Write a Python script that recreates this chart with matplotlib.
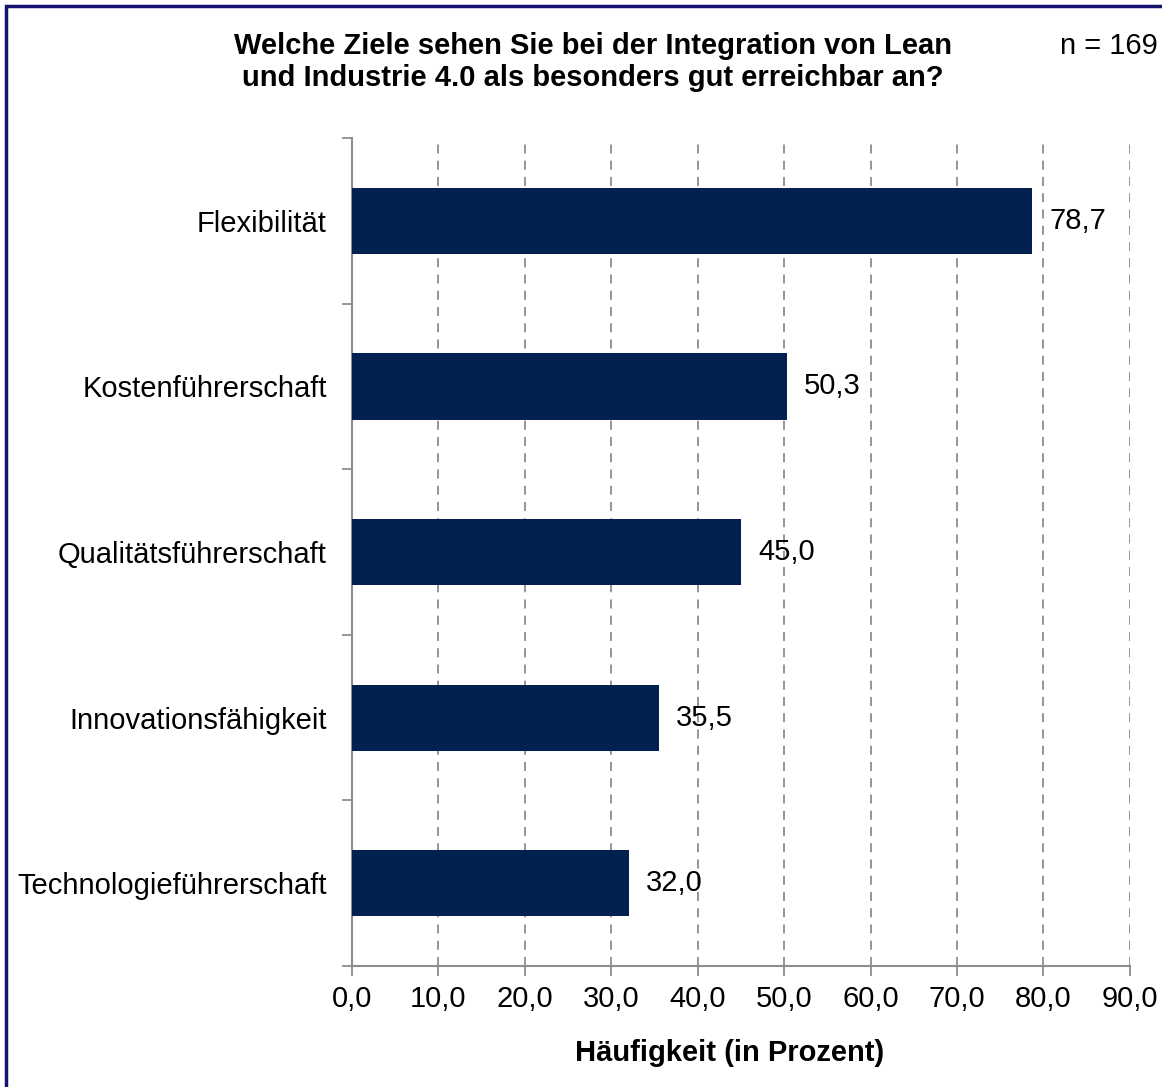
import matplotlib.pyplot as plt
import matplotlib.patches as mpatches
import numpy as np

# ── data ──────────────────────────────────────────────────────────────────────
categories = ['Flexibilität', 'Kostenführerschaft', 'Qualitätsführerschaft',
              'Innovationsfähigkeit', 'Technologieführerschaft']
values = [78.7, 50.3, 45.0, 35.5, 32.0]
xticks = [0, 10, 20, 30, 40, 50, 60, 70, 80, 90]

BAR_COLOR = '#03214f'
GRID_COLOR = '#8c8c8c'
FS = 21

plt.rcParams['font.family'] = ['Liberation Sans', 'DejaVu Sans']

fig = plt.figure(figsize=(11.62, 10.87), dpi=100)
ax = fig.add_axes([0.3029, 0.1113, 0.6695, 0.7617])

y = np.arange(len(categories))
ax.barh(y, values, height=0.4, color=BAR_COLOR, zorder=3)

for yi, v in zip(y, values):
    ax.text(v + 2.0, yi, f'{v:.1f}'.replace('.', ','), va='center', ha='left',
            fontsize=FS, zorder=4)

ax.set_xlim(0, 90)
ax.set_ylim(len(categories) - 0.5, -0.5)

ax.set_xticks(xticks)
ax.set_xticklabels([f'{t:.1f}'.replace('.', ',') for t in xticks], fontsize=FS)
ax.set_yticks(y)
ax.set_yticklabels(categories, fontsize=FS)
ax.set_yticks(np.arange(-0.5, len(categories)), minor=True)

ax.tick_params(axis='y', which='major', length=0, pad=18)
ax.tick_params(axis='y', which='minor', length=7, width=1.3, color=GRID_COLOR)
ax.tick_params(axis='x', length=7, width=1.3, color=GRID_COLOR, pad=7)

ax.grid(axis='x', linestyle=(0, (5, 4)), color=GRID_COLOR, linewidth=1.3, zorder=0)

for s in ['top', 'right']:
    ax.spines[s].set_visible(False)
for s in ['left', 'bottom']:
    ax.spines[s].set_color(GRID_COLOR)
    ax.spines[s].set_linewidth(1.5)

# title and annotations
fig.text(0.510, 0.958, 'Welche Ziele sehen Sie bei der Integration von Lean',
         ha='center', va='center', fontsize=FS, fontweight='bold')
fig.text(0.510, 0.928, 'und Industrie 4.0 als besonders gut erreichbar an?',
         ha='center', va='center', fontsize=FS, fontweight='bold')
fig.text(0.996, 0.958, 'n = 169', ha='right', va='center', fontsize=FS)
fig.text(0.628, 0.031, 'Häufigkeit (in Prozent)', ha='center', va='center',
         fontsize=FS, fontweight='bold')

# frame round the figure (cut off at right and bottom)
fig.patches.append(mpatches.Rectangle((6 / 1162, -0.1), 1.2, 1 - 6 / 1087 + 0.1,
                                      transform=fig.transFigure, fill=False,
                                      edgecolor='#141470', linewidth=2.5))

fig.savefig('out.png', dpi=100)
